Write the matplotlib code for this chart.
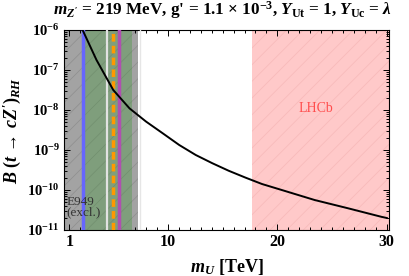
import numpy as np
import matplotlib
matplotlib.use('Agg')
import matplotlib.pyplot as plt
from matplotlib.ticker import MultipleLocator, LogLocator, NullFormatter

plt.rcParams['font.family'] = 'Liberation Serif'
plt.rcParams['mathtext.fontset'] = 'custom'
plt.rcParams['mathtext.rm'] = 'Liberation Serif:bold'
plt.rcParams['mathtext.it'] = 'Liberation Serif:italic:bold'
plt.rcParams['mathtext.bf'] = 'Liberation Serif:bold'
plt.rcParams['hatch.linewidth'] = 0.5

# curve (m_U in TeV, branching ratio)
m_U = [2.2, 3.47, 5.0, 6.49, 8.0, 9.51, 11.03, 12.54, 14.05, 15.56, 17.08,
       18.59, 20.4, 23.4, 26.5, 29.5, 30.0]
logB = [-6.0, -6.75, -7.5, -7.96, -8.29, -8.58, -8.875, -9.125, -9.33, -9.52, -9.69,
        -9.85, -10.0, -10.25, -10.46, -10.67, -10.70]
B = [10.0 ** v for v in logB]

# bands / lines (TeV)
gray_band = (0.0, 7.3)
green_band = (2.3, 6.7)
lhcb_band = (17.65, 31.0)
blue_x = 2.2
light_x = 4.4
orange_x = 5.0
purple_x = 5.5

xticks = [1, 10, 20, 30]
yticks = [1e-11, 1e-10, 1e-9, 1e-8, 1e-7, 1e-6]
ytick_labels = [r'$10^{-11}$', r'$10^{-10}$', r'$10^{-9}$', r'$10^{-8}$', r'$10^{-7}$', r'$10^{-6}$']

fig = plt.figure(figsize=(4.09, 2.76), dpi=100)
ax = fig.add_axes([64/409, 46/276, 325/409, 200/276])

ax.axvspan(*gray_band, facecolor='#a3a3a3', edgecolor='#8e8e8e', hatch='//', lw=0, zorder=1)
ax.axvspan(*green_band, facecolor='#7f9e7c', edgecolor='#718f6e', hatch='//', lw=0, zorder=2)
ax.axvspan(*lhcb_band, facecolor='#ffc9c9', edgecolor='#f7b8b8', hatch='//', lw=0, zorder=1)
ax.axvline(blue_x, color='#6666ff', lw=2.5, zorder=3)
ax.axvline(light_x, color='#e2e2e2', lw=1.6, zorder=3)
ax.axvline(purple_x, color='#b04fb0', lw=2.5, zorder=3)
ax.axvline(orange_x, color='#ff9900', lw=2.5, ls=(0, (2.2, 1.2)), zorder=4)
ax.axvline(gray_band[1] + 0.1, color='#e6e6e6', lw=1.0, zorder=3)

ax.plot(m_U, B, color='black', lw=1.4, zorder=5)

ax.text(23.5, 1.1e-8, 'LHCb', color='#ff4d4d', fontsize=10, ha='center', va='center', zorder=6)
ax.text(0.75, 10 ** -10.15, 'E949\n(excl.)', color='#333333', fontsize=9.5, ha='left', va='top',
        linespacing=0.85, zorder=6)

ax.set_xlim(0.5, 30.2)
ax.set_yscale('log')
ax.set_ylim(1e-11, 1e-6)
ax.set_xticks(xticks)
ax.set_xticklabels([str(t) for t in xticks], fontweight='bold', fontsize=11.5)
ax.xaxis.set_minor_locator(MultipleLocator(1))
ax.set_yticks(yticks)
ax.set_yticklabels(ytick_labels, fontsize=10.5)
ax.yaxis.set_minor_locator(LogLocator(base=10, subs=np.arange(2, 10)))
ax.yaxis.set_minor_formatter(NullFormatter())
ax.tick_params(which='both', direction='in', top=True, right=True, width=0.7)
ax.tick_params(which='major', length=4, pad=3)
ax.tick_params(which='minor', length=2)
for s in ax.spines.values():
    s.set_linewidth(0.8)

ax.set_xlabel(r'$m_U$ [TeV]', fontsize=13, fontweight='bold')
ax.xaxis.set_label_coords(0.5, -0.135)
ax.set_ylabel(r"$B\ (t\,\rightarrow\,c Z')_{RH}$", fontsize=13)
ax.yaxis.set_label_coords(-0.125, 0.5)

fig.text(223/409, 1 - 10/276,
         r"$m_{Z'}$ = 219 MeV, g' = 1.1 $\times$ 10$^{-3}$, $Y_{\mathrm{Ut}}$ = 1, $Y_{\mathrm{Uc}}$ = $\lambda$",
         ha='center', va='center', fontsize=12.3, fontweight='bold')

fig.savefig('out.png', dpi=100)
